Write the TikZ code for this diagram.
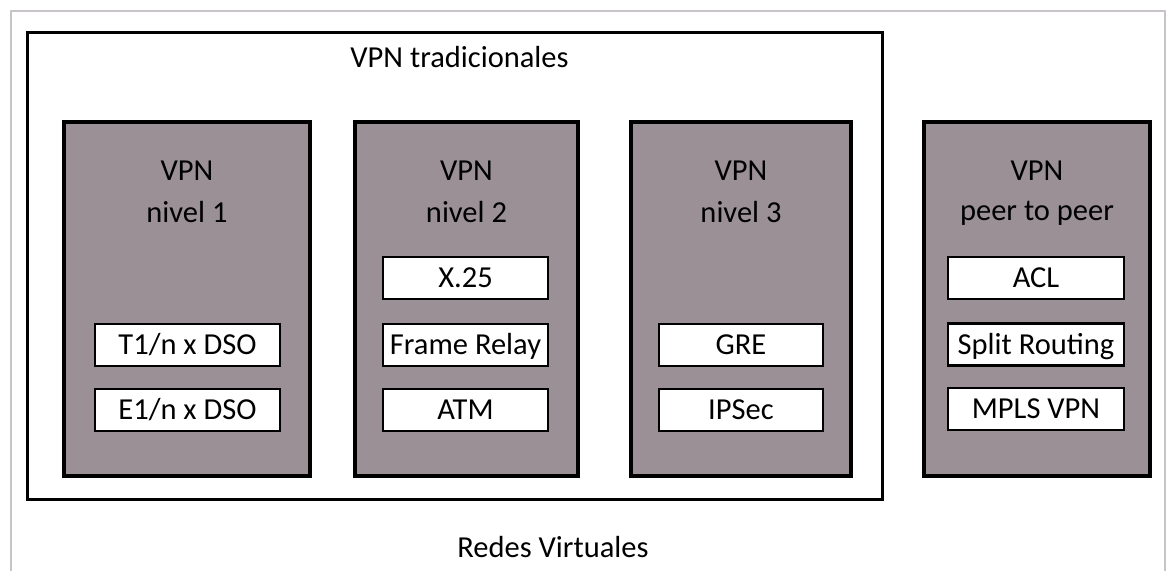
\documentclass[tikz,border=0pt]{standalone}
\usepackage{fontspec}
\setmainfont{Carlito}
\definecolor{boxgrey}{RGB}{154,144,149}
\definecolor{framegrey}{RGB}{200,196,202}
\tikzset{
  every node/.style={font=\fontsize{30.5}{36}\selectfont},
  groupbox/.style={draw=black, line width=4pt, fill=boxgrey, inner sep=0pt},
  itembox/.style={draw=black, line width=2.5pt, fill=white, inner sep=0pt,
                  minimum height=42pt, text height=25pt, text depth=5.4pt},
  outerbox/.style={draw=black, line width=3pt, fill=white, inner sep=0pt},
  heading/.style={anchor=base, inner sep=0pt}
}
\begin{document}
\begin{tikzpicture}[x=1pt, y=-1pt]
  \useasboundingbox (0,0) rectangle (1167,571);
  \fill[white] (0,0) rectangle (1167,571);
  % light page frame
  \draw[framegrey, line width=1.5pt] (11,571) -- (11,11) -- (1165,11) -- (1165,571);

  % traditional VPN container
  \node[outerbox, minimum width=855pt, minimum height=467pt] (trad) at (454.5,265.5) {};
  \node[heading] (tradlbl) at (459.5,67) {VPN tradicionales};

  % level 1
  \node[groupbox, minimum width=246pt, minimum height=354pt] (g1) at (187,299) {};
  \node[heading] (g1a) at (187,180) {VPN};
  \node[heading] (g1b) at (187,222) {nivel 1};
  \node[itembox, minimum width=185pt] (t1) at (187.5,345) {T1/n x DSO};
  \node[itembox, minimum width=185pt] (e1) at (187.5,410) {E1/n x DSO};

  % level 2
  \node[groupbox, minimum width=223pt, minimum height=354pt] (g2) at (466.5,299) {};
  \node[heading] (g2a) at (466.5,180) {VPN};
  \node[heading] (g2b) at (466.5,222) {nivel 2};
  \node[itembox, minimum width=165pt] (x25) at (465.5,278) {X.25};
  \node[itembox, minimum width=165pt] (fr) at (465.5,345) {Frame Relay};
  \node[itembox, minimum width=165pt] (atm) at (465.5,410) {ATM};

  % level 3
  \node[groupbox, minimum width=220pt, minimum height=354pt] (g3) at (741,299) {};
  \node[heading] (g3a) at (741,180) {VPN};
  \node[heading] (g3b) at (741,222) {nivel 3};
  \node[itembox, minimum width=164pt] (gre) at (741,345) {GRE};
  \node[itembox, minimum width=164pt] (ipsec) at (741,410) {IPSec};

  % peer to peer
  \node[groupbox, minimum width=226pt, minimum height=354pt] (g4) at (1037,299) {};
  \node[heading] (g4a) at (1037,180) {VPN};
  \node[heading] (g4b) at (1037,220) {peer to peer};
  \node[itembox, minimum width=176pt] (acl) at (1036,278) {ACL};
  \node[itembox, minimum width=176pt] (split) at (1036,344.5) {Split Routing};
  \node[itembox, minimum width=176pt] (mpls) at (1036,409) {MPLS VPN};

  % caption
  \node[heading] (caption) at (553,557) {Redes Virtuales};
\end{tikzpicture}
\end{document}
